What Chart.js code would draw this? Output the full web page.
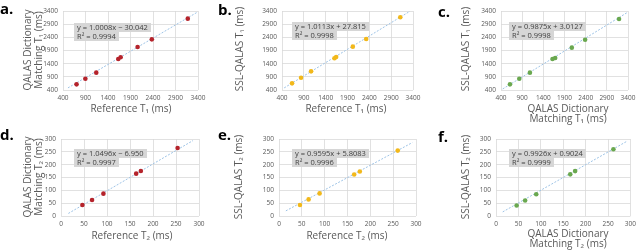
<!DOCTYPE html>
<html>
<head>
<meta charset="utf-8">
<script src="https://cdn.jsdelivr.net/npm/chart.js@4.4.0/dist/chart.umd.min.js"></script>
<style>
  body { margin: 0; background: #fff; width: 640px; height: 251px; overflow: hidden; position: relative; font-family: "Open Sans", "DejaVu Sans", sans-serif; }
  canvas { position: absolute; }
  .lbl { position: absolute; font: bold 15px "Open Sans", "DejaVu Sans", sans-serif; color: #000; line-height: 1; }
  .eq { position: absolute; background: #d6d6d6; color: #404040; font-size: 7.5px; line-height: 9px; height: 9px; padding: 0 3px; white-space: nowrap; }
  .ttl { position: absolute; color: #595959; font-size: 10px; line-height: 10.5px; white-space: nowrap; text-align: center; transform: translate(-50%, -50%); }
  .ttl.v { transform: translate(-50%, -50%) rotate(-90deg); }
  .ttl.two { line-height: 9.5px; }
</style>
</head>
<body>
<canvas id="ca" width="213" height="125" style="left:0;top:0"></canvas>
<canvas id="cb" width="213" height="125" style="left:213px;top:0"></canvas>
<canvas id="cc" width="214" height="125" style="left:426px;top:0"></canvas>
<canvas id="cd" width="213" height="126" style="left:0;top:125px"></canvas>
<canvas id="ce" width="213" height="126" style="left:213px;top:125px"></canvas>
<canvas id="cf" width="214" height="126" style="left:426px;top:125px"></canvas>

<div class="lbl" style="left:0;top:1px">a.</div>
<div class="lbl" style="left:218px;top:2px">b.</div>
<div class="lbl" style="left:438px;top:4px">c.</div>
<div class="lbl" style="left:0;top:127px">d.</div>
<div class="lbl" style="left:218px;top:127px">e.</div>
<div class="lbl" style="left:438px;top:129px">f.</div>

<div class="eq" style="left:74px;top:23px">y = 1.0008x − 30.042</div>
<div class="eq" style="left:74px;top:32px">R² = 0.9994</div>
<div class="eq" style="left:292px;top:22px">y = 1.0113x + 27.815</div>
<div class="eq" style="left:292px;top:31px">R² = 0.9998</div>
<div class="eq" style="left:509px;top:22px">y = 0.9875x + 3.0127</div>
<div class="eq" style="left:509px;top:31px">R² = 0.9998</div>
<div class="eq" style="left:74px;top:149px">y = 1.0496x − 6.950</div>
<div class="eq" style="left:74px;top:158px">R² = 0.9997</div>
<div class="eq" style="left:292px;top:149px">y = 0.9595x + 5.8083</div>
<div class="eq" style="left:292px;top:158px">R² = 0.9996</div>
<div class="eq" style="left:509px;top:149px">y = 0.9926x + 0.9024</div>
<div class="eq" style="left:509px;top:158px">R² = 0.9999</div>

<!-- axis titles -->
<div class="ttl v" style="left:32px;top:50px">QALAS Dictionary<br>Matching T₁ (ms)</div>
<div class="ttl v" style="left:239px;top:49px">SSL-QALAS T₁ (ms)</div>
<div class="ttl v" style="left:465px;top:49px">SSL-QALAS T₁ (ms)</div>
<div class="ttl v" style="left:32px;top:177px">QALAS Dictionary<br>Matching T₂ (ms)</div>
<div class="ttl v" style="left:238px;top:177px">SSL-QALAS T₂ (ms)</div>
<div class="ttl v" style="left:465px;top:177px">SSL-QALAS T₂ (ms)</div>

<div class="ttl" style="left:131px;top:108px">Reference T₁ (ms)</div>
<div class="ttl" style="left:346px;top:108px">Reference T₁ (ms)</div>
<div class="ttl two" style="left:568px;top:113px">QALAS Dictionary<br>Matching T₁ (ms)</div>
<div class="ttl" style="left:132px;top:235px">Reference T₂ (ms)</div>
<div class="ttl" style="left:347px;top:235px">Reference T₂ (ms)</div>
<div class="ttl two" style="left:568px;top:238px">QALAS Dictionary<br>Matching T₂ (ms)</div>

<script>
// T1 panels (ms)
const t1RefA = [701, 897, 1139, 1628, 1681, 2058, 2374, 3173];
const t1DictA = [615, 830, 1058, 1577, 1641, 2033, 2324, 3109];
const t1RefB = [630, 836, 1066, 1601, 1640, 2022, 2328, 3109];
const t1SslB = [653, 868, 1109, 1603, 1653, 2046, 2337, 3160];
const t1DictC = [612, 832, 1083, 1617, 1680, 2073, 2387, 3188];
const t1SslC = [615, 830, 1058, 1577, 1615, 2008, 2311, 3096];

// T2 panels (ms)
const t2RefD = [46.5, 67.5, 92.2, 163.4, 173.6, 253.5];
const t2DictD = [42.9, 62.3, 87, 165, 175.3, 265];
const t2RefE = [45.9, 64.8, 88.9, 164.6, 177, 260];
const t2SslE = [42.7, 64.7, 88, 161.7, 173.4, 254.8];
const t2DictF = [46, 65, 89.8, 165.7, 176.6, 262];
const t2SslF = [41.2, 60.5, 85, 162.2, 175, 260];

// trendline end points
const trendA = [[510, 480], [3380, 3350]];
const trendB = [[450, 480], [3330, 3390]];
const trendC = [[440, 440], [3400, 3360]];
const trendD = [[16, 10], [287, 294]];
const trendE = [[15, 20], [292, 286]];
const trendF = [[15, 16], [293, 292]];

const t1Ticks = [400, 900, 1400, 1900, 2400, 2900, 3400];
const t2Ticks = [0, 50, 100, 150, 200, 250, 300];

const RED = "#b5232b", GOLD = "#f2b81a", GREEN = "#6aa84f";
const FONT = "'Open Sans', 'DejaVu Sans', sans-serif";

function toPoints(xs, ys) {
    return xs.map((x, i) => ({ x: x, y: ys[i] }));
}

function makePanel(id, cfg) {
    const ctx = document.getElementById(id).getContext("2d");
    const tickVals = cfg.ticks;
    const tickOpts = {
        color: "#595959",
        font: { family: FONT, size: 6.5 },
        autoSkip: false,
        maxRotation: 0,
        callback: (v) => String(v),
    };
    const gridOpts = { color: "#d9d9d9", lineWidth: 0.8, drawTicks: false };

    return new Chart(ctx, {
        type: "scatter",
        data: {
            datasets: [
                {
                    data: toPoints(cfg.xs, cfg.ys),
                    backgroundColor: cfg.color,
                    borderWidth: 0,
                    pointRadius: 2.3,
                    order: 1,
                },
                {
                    data: cfg.trend.map((p) => ({ x: p[0], y: p[1] })),
                    showLine: true,
                    borderColor: "#9dc3e6",
                    borderWidth: 1,
                    borderDash: [2, 1.5],
                    pointRadius: 0,
                    order: 2,
                },
            ],
        },
        options: {
            responsive: false,
            animation: false,
            events: [],
            layout: { padding: { top: cfg.top, right: cfg.right, left: 0, bottom: 0 } },
            plugins: { legend: { display: false }, tooltip: { enabled: false } },
            scales: {
                x: {
                    type: "linear",
                    min: tickVals[0],
                    max: tickVals[tickVals.length - 1],
                    afterBuildTicks: (s) => { s.ticks = tickVals.map((v) => ({ value: v })); },
                    afterFit: (s) => { s.height = cfg.bottomH; },
                    ticks: Object.assign({ padding: 4 }, tickOpts),
                    grid: gridOpts,
                    border: { display: false },
                },
                y: {
                    type: "linear",
                    min: tickVals[0],
                    max: tickVals[tickVals.length - 1],
                    afterBuildTicks: (s) => { s.ticks = tickVals.map((v) => ({ value: v })); },
                    afterFit: (s) => { s.width = cfg.leftW; },
                    ticks: Object.assign({ padding: 5 }, tickOpts),
                    grid: gridOpts,
                    border: { display: false },
                },
            },
        },
    });
}

makePanel("ca", { xs: t1RefA, ys: t1DictA, trend: trendA, color: RED, ticks: t1Ticks,
    top: 11, right: 15, leftW: 63, bottomH: 35 });
makePanel("cb", { xs: t1RefB, ys: t1SslB, trend: trendB, color: GOLD, ticks: t1Ticks,
    top: 11, right: 13, leftW: 69, bottomH: 35 });
makePanel("cc", { xs: t1DictC, ys: t1SslC, trend: trendC, color: GREEN, ticks: t1Ticks,
    top: 11, right: 12, leftW: 75, bottomH: 35 });
makePanel("cd", { xs: t2RefD, ys: t2DictD, trend: trendD, color: RED, ticks: t2Ticks,
    top: 14, right: 14, leftW: 61, bottomH: 35 });
makePanel("ce", { xs: t2RefE, ys: t2SslE, trend: trendE, color: GOLD, ticks: t2Ticks,
    top: 14, right: 10, leftW: 66, bottomH: 35 });
makePanel("cf", { xs: t2DictF, ys: t2SslF, trend: trendF, color: GREEN, ticks: t2Ticks,
    top: 14, right: 7, leftW: 70, bottomH: 35 });
</script>
</body>
</html>
